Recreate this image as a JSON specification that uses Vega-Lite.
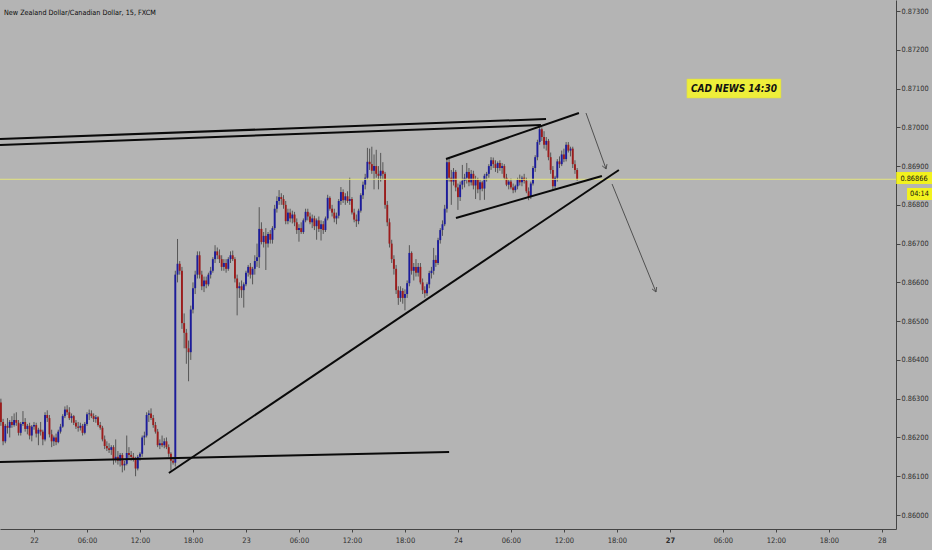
{
"$schema":"https://vega.github.io/schema/vega-lite/v6.json",
"width":896,"height":529,
"autosize":"none",
"padding":{"left":0,"top":0,"right":36,"bottom":21},
"background":"#b4b4b4",
"config":{"view":{"stroke":null},"axis":{"grid":false}},
"title":{"text":"New Zealand Dollar/Canadian Dollar, 15, FXCM","anchor":"start","frame":"group","orient":"top","offset":-22,"baseline":"alphabetic","font":"DejaVu Sans Condensed, sans-serif","fontSize":7.2,"fontWeight":"normal","color":"#0a0a0a","dx":4},
"datasets":{
"candles":[
{"i":-15,"o":0.86290,"h":0.86300,"l":0.86230,"c":0.86240},
{"i":-14,"o":0.86240,"h":0.86248,"l":0.86180,"c":0.86190},
{"i":-13,"o":0.86190,"h":0.86235,"l":0.86185,"c":0.86230},
{"i":-12,"o":0.86230,"h":0.86250,"l":0.86210,"c":0.86225},
{"i":-11,"o":0.86225,"h":0.86245,"l":0.86200,"c":0.86240},
{"i":-10,"o":0.86240,"h":0.86255,"l":0.86225,"c":0.86232},
{"i":-9,"o":0.86232,"h":0.86262,"l":0.86228,"c":0.86245},
{"i":-8,"o":0.86245,"h":0.86265,"l":0.86230,"c":0.86238},
{"i":-7,"o":0.86238,"h":0.86245,"l":0.86205,"c":0.86212},
{"i":-6,"o":0.86212,"h":0.86240,"l":0.86205,"c":0.86235},
{"i":-5,"o":0.86235,"h":0.86268,"l":0.86230,"c":0.86240},
{"i":-4,"o":0.86240,"h":0.86250,"l":0.86215,"c":0.86222},
{"i":-3,"o":0.86222,"h":0.86235,"l":0.86208,"c":0.86230},
{"i":-2,"o":0.86230,"h":0.86238,"l":0.86195,"c":0.86205},
{"i":-1,"o":0.86205,"h":0.86232,"l":0.86190,"c":0.86228},
{"i":0,"o":0.86228,"h":0.86240,"l":0.86220,"c":0.86232},
{"i":1,"o":0.86232,"h":0.86238,"l":0.86200,"c":0.86210},
{"i":2,"o":0.86210,"h":0.86225,"l":0.86180,"c":0.86220},
{"i":3,"o":0.86220,"h":0.86240,"l":0.86205,"c":0.86215},
{"i":4,"o":0.86215,"h":0.86220,"l":0.86180,"c":0.86195},
{"i":5,"o":0.86195,"h":0.86265,"l":0.86190,"c":0.86258},
{"i":6,"o":0.86258,"h":0.86270,"l":0.86240,"c":0.86250},
{"i":7,"o":0.86250,"h":0.86258,"l":0.86200,"c":0.86208},
{"i":8,"o":0.86208,"h":0.86220,"l":0.86175,"c":0.86190},
{"i":9,"o":0.86190,"h":0.86205,"l":0.86178,"c":0.86200},
{"i":10,"o":0.86200,"h":0.86210,"l":0.86180,"c":0.86188},
{"i":11,"o":0.86188,"h":0.86220,"l":0.86185,"c":0.86215},
{"i":12,"o":0.86215,"h":0.86235,"l":0.86210,"c":0.86228},
{"i":13,"o":0.86228,"h":0.86260,"l":0.86225,"c":0.86255},
{"i":14,"o":0.86255,"h":0.86280,"l":0.86250,"c":0.86272},
{"i":15,"o":0.86272,"h":0.86283,"l":0.86258,"c":0.86265},
{"i":16,"o":0.86265,"h":0.86278,"l":0.86245,"c":0.86250},
{"i":17,"o":0.86250,"h":0.86262,"l":0.86238,"c":0.86255},
{"i":18,"o":0.86255,"h":0.86258,"l":0.86232,"c":0.86238},
{"i":19,"o":0.86238,"h":0.86245,"l":0.86222,"c":0.86228},
{"i":20,"o":0.86228,"h":0.86240,"l":0.86215,"c":0.86225},
{"i":21,"o":0.86225,"h":0.86238,"l":0.86218,"c":0.86230},
{"i":22,"o":0.86230,"h":0.86235,"l":0.86205,"c":0.86212},
{"i":23,"o":0.86212,"h":0.86240,"l":0.86208,"c":0.86235},
{"i":24,"o":0.86235,"h":0.86265,"l":0.86230,"c":0.86260},
{"i":25,"o":0.86260,"h":0.86272,"l":0.86245,"c":0.86262},
{"i":26,"o":0.86262,"h":0.86270,"l":0.86250,"c":0.86255},
{"i":27,"o":0.86255,"h":0.86262,"l":0.86240,"c":0.86248},
{"i":28,"o":0.86248,"h":0.86258,"l":0.86238,"c":0.86252},
{"i":29,"o":0.86252,"h":0.86255,"l":0.86228,"c":0.86232},
{"i":30,"o":0.86232,"h":0.86240,"l":0.86220,"c":0.86225},
{"i":31,"o":0.86225,"h":0.86230,"l":0.86190,"c":0.86195},
{"i":32,"o":0.86195,"h":0.86205,"l":0.86170,"c":0.86178},
{"i":33,"o":0.86178,"h":0.86190,"l":0.86165,"c":0.86172},
{"i":34,"o":0.86172,"h":0.86185,"l":0.86160,"c":0.86168},
{"i":35,"o":0.86168,"h":0.86180,"l":0.86155,"c":0.86175},
{"i":36,"o":0.86175,"h":0.86180,"l":0.86130,"c":0.86142},
{"i":37,"o":0.86142,"h":0.86195,"l":0.86135,"c":0.86150},
{"i":38,"o":0.86150,"h":0.86165,"l":0.86130,"c":0.86140},
{"i":39,"o":0.86140,"h":0.86160,"l":0.86125,"c":0.86155},
{"i":40,"o":0.86155,"h":0.86160,"l":0.86110,"c":0.86128},
{"i":41,"o":0.86128,"h":0.86140,"l":0.86115,"c":0.86132},
{"i":42,"o":0.86132,"h":0.86205,"l":0.86128,"c":0.86160},
{"i":43,"o":0.86160,"h":0.86175,"l":0.86145,"c":0.86155},
{"i":44,"o":0.86155,"h":0.86165,"l":0.86140,"c":0.86150},
{"i":45,"o":0.86150,"h":0.86160,"l":0.86138,"c":0.86145},
{"i":46,"o":0.86145,"h":0.86150,"l":0.86100,"c":0.86120},
{"i":47,"o":0.86120,"h":0.86155,"l":0.86115,"c":0.86150},
{"i":48,"o":0.86150,"h":0.86162,"l":0.86140,"c":0.86158},
{"i":49,"o":0.86158,"h":0.86205,"l":0.86150,"c":0.86200},
{"i":50,"o":0.86200,"h":0.86215,"l":0.86180,"c":0.86205},
{"i":51,"o":0.86205,"h":0.86265,"l":0.86200,"c":0.86258},
{"i":52,"o":0.86258,"h":0.86270,"l":0.86240,"c":0.86262},
{"i":53,"o":0.86262,"h":0.86275,"l":0.86245,"c":0.86250},
{"i":54,"o":0.86250,"h":0.86258,"l":0.86225,"c":0.86232},
{"i":55,"o":0.86232,"h":0.86240,"l":0.86210,"c":0.86215},
{"i":56,"o":0.86215,"h":0.86222,"l":0.86175,"c":0.86180},
{"i":57,"o":0.86180,"h":0.86195,"l":0.86170,"c":0.86185},
{"i":58,"o":0.86185,"h":0.86205,"l":0.86175,"c":0.86180},
{"i":59,"o":0.86180,"h":0.86198,"l":0.86172,"c":0.86190},
{"i":60,"o":0.86190,"h":0.86200,"l":0.86170,"c":0.86175},
{"i":61,"o":0.86175,"h":0.86182,"l":0.86150,"c":0.86158},
{"i":62,"o":0.86158,"h":0.86162,"l":0.86115,"c":0.86140},
{"i":63,"o":0.86140,"h":0.86150,"l":0.86130,"c":0.86135},
{"i":64,"o":0.86135,"h":0.86630,"l":0.86125,"c":0.86620},
{"i":65,"o":0.86620,"h":0.86712,"l":0.86600,"c":0.86648},
{"i":66,"o":0.86648,"h":0.86655,"l":0.86620,"c":0.86630},
{"i":67,"o":0.86630,"h":0.86640,"l":0.86480,"c":0.86495},
{"i":68,"o":0.86495,"h":0.86520,"l":0.86430,"c":0.86470},
{"i":69,"o":0.86470,"h":0.86480,"l":0.86390,"c":0.86430},
{"i":70,"o":0.86430,"h":0.86450,"l":0.86345,"c":0.86420},
{"i":71,"o":0.86420,"h":0.86540,"l":0.86400,"c":0.86530},
{"i":72,"o":0.86530,"h":0.86600,"l":0.86520,"c":0.86585},
{"i":73,"o":0.86585,"h":0.86630,"l":0.86570,"c":0.86620},
{"i":74,"o":0.86620,"h":0.86680,"l":0.86610,"c":0.86670},
{"i":75,"o":0.86670,"h":0.86680,"l":0.86610,"c":0.86620},
{"i":76,"o":0.86620,"h":0.86630,"l":0.86580,"c":0.86590},
{"i":77,"o":0.86590,"h":0.86615,"l":0.86575,"c":0.86605},
{"i":78,"o":0.86605,"h":0.86615,"l":0.86585,"c":0.86595},
{"i":79,"o":0.86595,"h":0.86625,"l":0.86590,"c":0.86620},
{"i":80,"o":0.86620,"h":0.86640,"l":0.86610,"c":0.86630},
{"i":81,"o":0.86630,"h":0.86665,"l":0.86625,"c":0.86660},
{"i":82,"o":0.86660,"h":0.86696,"l":0.86650,"c":0.86680},
{"i":83,"o":0.86680,"h":0.86690,"l":0.86660,"c":0.86670},
{"i":84,"o":0.86670,"h":0.86685,"l":0.86650,"c":0.86660},
{"i":85,"o":0.86660,"h":0.86670,"l":0.86630,"c":0.86640},
{"i":86,"o":0.86640,"h":0.86660,"l":0.86630,"c":0.86650},
{"i":87,"o":0.86650,"h":0.86660,"l":0.86625,"c":0.86635},
{"i":88,"o":0.86635,"h":0.86665,"l":0.86630,"c":0.86660},
{"i":89,"o":0.86660,"h":0.86680,"l":0.86650,"c":0.86670},
{"i":90,"o":0.86670,"h":0.86682,"l":0.86655,"c":0.86660},
{"i":91,"o":0.86660,"h":0.86665,"l":0.86600,"c":0.86610},
{"i":92,"o":0.86610,"h":0.86620,"l":0.86515,"c":0.86585},
{"i":93,"o":0.86585,"h":0.86600,"l":0.86560,"c":0.86590},
{"i":94,"o":0.86590,"h":0.86605,"l":0.86560,"c":0.86580},
{"i":95,"o":0.86580,"h":0.86600,"l":0.86535,"c":0.86595},
{"i":96,"o":0.86595,"h":0.86630,"l":0.86590,"c":0.86625},
{"i":97,"o":0.86625,"h":0.86645,"l":0.86615,"c":0.86640},
{"i":98,"o":0.86640,"h":0.86650,"l":0.86610,"c":0.86620},
{"i":99,"o":0.86620,"h":0.86640,"l":0.86595,"c":0.86635},
{"i":100,"o":0.86635,"h":0.86670,"l":0.86620,"c":0.86655},
{"i":101,"o":0.86655,"h":0.86700,"l":0.86640,"c":0.86665},
{"i":102,"o":0.86665,"h":0.86794,"l":0.86637,"c":0.86738},
{"i":103,"o":0.86738,"h":0.86755,"l":0.86698,"c":0.86704},
{"i":104,"o":0.86704,"h":0.86730,"l":0.86690,"c":0.86720},
{"i":105,"o":0.86720,"h":0.86740,"l":0.86632,"c":0.86700},
{"i":106,"o":0.86700,"h":0.86730,"l":0.86690,"c":0.86725},
{"i":107,"o":0.86725,"h":0.86735,"l":0.86700,"c":0.86710},
{"i":108,"o":0.86710,"h":0.86745,"l":0.86700,"c":0.86740},
{"i":109,"o":0.86740,"h":0.86800,"l":0.86735,"c":0.86790},
{"i":110,"o":0.86790,"h":0.86822,"l":0.86780,"c":0.86810},
{"i":111,"o":0.86810,"h":0.86838,"l":0.86800,"c":0.86820},
{"i":112,"o":0.86820,"h":0.86830,"l":0.86800,"c":0.86815},
{"i":113,"o":0.86815,"h":0.86825,"l":0.86790,"c":0.86800},
{"i":114,"o":0.86800,"h":0.86810,"l":0.86750,"c":0.86758},
{"i":115,"o":0.86758,"h":0.86790,"l":0.86750,"c":0.86780},
{"i":116,"o":0.86780,"h":0.86790,"l":0.86755,"c":0.86765},
{"i":117,"o":0.86765,"h":0.86785,"l":0.86752,"c":0.86775},
{"i":118,"o":0.86775,"h":0.86782,"l":0.86745,"c":0.86755},
{"i":119,"o":0.86755,"h":0.86765,"l":0.86725,"c":0.86735},
{"i":120,"o":0.86735,"h":0.86750,"l":0.86705,"c":0.86740},
{"i":121,"o":0.86740,"h":0.86755,"l":0.86725,"c":0.86730},
{"i":122,"o":0.86730,"h":0.86765,"l":0.86725,"c":0.86760},
{"i":123,"o":0.86760,"h":0.86790,"l":0.86755,"c":0.86782},
{"i":124,"o":0.86782,"h":0.86790,"l":0.86760,"c":0.86770},
{"i":125,"o":0.86770,"h":0.86780,"l":0.86750,"c":0.86755},
{"i":126,"o":0.86755,"h":0.86775,"l":0.86740,"c":0.86765},
{"i":127,"o":0.86765,"h":0.86772,"l":0.86735,"c":0.86745},
{"i":128,"o":0.86745,"h":0.86765,"l":0.86710,"c":0.86760},
{"i":129,"o":0.86760,"h":0.86770,"l":0.86730,"c":0.86738},
{"i":130,"o":0.86738,"h":0.86760,"l":0.86708,"c":0.86750},
{"i":131,"o":0.86750,"h":0.86758,"l":0.86725,"c":0.86735},
{"i":132,"o":0.86735,"h":0.86770,"l":0.86730,"c":0.86765},
{"i":133,"o":0.86765,"h":0.86826,"l":0.86760,"c":0.86818},
{"i":134,"o":0.86818,"h":0.86822,"l":0.86785,"c":0.86790},
{"i":135,"o":0.86790,"h":0.86800,"l":0.86770,"c":0.86780},
{"i":136,"o":0.86780,"h":0.86790,"l":0.86755,"c":0.86765},
{"i":137,"o":0.86765,"h":0.86780,"l":0.86750,"c":0.86772},
{"i":138,"o":0.86772,"h":0.86815,"l":0.86765,"c":0.86810},
{"i":139,"o":0.86810,"h":0.86846,"l":0.86800,"c":0.86833},
{"i":140,"o":0.86833,"h":0.86840,"l":0.86805,"c":0.86812},
{"i":141,"o":0.86812,"h":0.86830,"l":0.86800,"c":0.86822},
{"i":142,"o":0.86822,"h":0.86835,"l":0.86805,"c":0.86810},
{"i":143,"o":0.86810,"h":0.86870,"l":0.86800,"c":0.86815},
{"i":144,"o":0.86815,"h":0.86820,"l":0.86775,"c":0.86780},
{"i":145,"o":0.86780,"h":0.86790,"l":0.86755,"c":0.86762},
{"i":146,"o":0.86762,"h":0.86775,"l":0.86743,"c":0.86758},
{"i":147,"o":0.86758,"h":0.86790,"l":0.86750,"c":0.86785},
{"i":148,"o":0.86785,"h":0.86830,"l":0.86780,"c":0.86825},
{"i":149,"o":0.86825,"h":0.86860,"l":0.86815,"c":0.86852},
{"i":150,"o":0.86852,"h":0.86880,"l":0.86840,"c":0.86870},
{"i":151,"o":0.86870,"h":0.86947,"l":0.86865,"c":0.86911},
{"i":152,"o":0.86911,"h":0.86945,"l":0.86890,"c":0.86905},
{"i":153,"o":0.86905,"h":0.86950,"l":0.86880,"c":0.86888},
{"i":154,"o":0.86888,"h":0.86930,"l":0.86840,"c":0.86900},
{"i":155,"o":0.86900,"h":0.86942,"l":0.86870,"c":0.86880},
{"i":156,"o":0.86880,"h":0.86900,"l":0.86840,"c":0.86875},
{"i":157,"o":0.86875,"h":0.86934,"l":0.86860,"c":0.86888},
{"i":158,"o":0.86888,"h":0.86910,"l":0.86865,"c":0.86880},
{"i":159,"o":0.86880,"h":0.86885,"l":0.86790,"c":0.86800},
{"i":160,"o":0.86800,"h":0.86810,"l":0.86745,"c":0.86755},
{"i":161,"o":0.86755,"h":0.86765,"l":0.86690,"c":0.86700},
{"i":162,"o":0.86700,"h":0.86710,"l":0.86650,"c":0.86660},
{"i":163,"o":0.86660,"h":0.86670,"l":0.86620,"c":0.86635},
{"i":164,"o":0.86635,"h":0.86645,"l":0.86570,"c":0.86580},
{"i":165,"o":0.86580,"h":0.86590,"l":0.86542,"c":0.86560},
{"i":166,"o":0.86560,"h":0.86590,"l":0.86550,"c":0.86578},
{"i":167,"o":0.86578,"h":0.86585,"l":0.86545,"c":0.86560},
{"i":168,"o":0.86560,"h":0.86582,"l":0.86528,"c":0.86570},
{"i":169,"o":0.86570,"h":0.86605,"l":0.86560,"c":0.86598},
{"i":170,"o":0.86598,"h":0.86696,"l":0.86590,"c":0.86676},
{"i":171,"o":0.86676,"h":0.86680,"l":0.86620,"c":0.86630},
{"i":172,"o":0.86630,"h":0.86650,"l":0.86605,"c":0.86640},
{"i":173,"o":0.86640,"h":0.86660,"l":0.86615,"c":0.86625},
{"i":174,"o":0.86625,"h":0.86650,"l":0.86615,"c":0.86640},
{"i":175,"o":0.86640,"h":0.86650,"l":0.86595,"c":0.86600},
{"i":176,"o":0.86600,"h":0.86610,"l":0.86570,"c":0.86580},
{"i":177,"o":0.86580,"h":0.86590,"l":0.86560,"c":0.86572},
{"i":178,"o":0.86572,"h":0.86600,"l":0.86565,"c":0.86595},
{"i":179,"o":0.86595,"h":0.86630,"l":0.86585,"c":0.86624},
{"i":180,"o":0.86624,"h":0.86640,"l":0.86610,"c":0.86630},
{"i":181,"o":0.86630,"h":0.86689,"l":0.86620,"c":0.86658},
{"i":182,"o":0.86658,"h":0.86670,"l":0.86640,"c":0.86650},
{"i":183,"o":0.86650,"h":0.86715,"l":0.86645,"c":0.86709},
{"i":184,"o":0.86709,"h":0.86740,"l":0.86700,"c":0.86735},
{"i":185,"o":0.86735,"h":0.86760,"l":0.86720,"c":0.86750},
{"i":186,"o":0.86750,"h":0.86800,"l":0.86745,"c":0.86790},
{"i":187,"o":0.86790,"h":0.86920,"l":0.86780,"c":0.86910},
{"i":188,"o":0.86910,"h":0.86918,"l":0.86860,"c":0.86870},
{"i":189,"o":0.86870,"h":0.86890,"l":0.86800,"c":0.86860},
{"i":190,"o":0.86860,"h":0.86895,"l":0.86850,"c":0.86885},
{"i":191,"o":0.86885,"h":0.86890,"l":0.86835,"c":0.86845},
{"i":192,"o":0.86845,"h":0.86855,"l":0.86787,"c":0.86820},
{"i":193,"o":0.86820,"h":0.86860,"l":0.86810,"c":0.86852},
{"i":194,"o":0.86852,"h":0.86903,"l":0.86840,"c":0.86862},
{"i":195,"o":0.86862,"h":0.86880,"l":0.86845,"c":0.86870},
{"i":196,"o":0.86870,"h":0.86908,"l":0.86855,"c":0.86885},
{"i":197,"o":0.86885,"h":0.86895,"l":0.86848,"c":0.86858},
{"i":198,"o":0.86858,"h":0.86890,"l":0.86850,"c":0.86880},
{"i":199,"o":0.86880,"h":0.86888,"l":0.86840,"c":0.86850},
{"i":200,"o":0.86850,"h":0.86875,"l":0.86815,"c":0.86865},
{"i":201,"o":0.86865,"h":0.86870,"l":0.86830,"c":0.86840},
{"i":202,"o":0.86840,"h":0.86865,"l":0.86812,"c":0.86858},
{"i":203,"o":0.86858,"h":0.86862,"l":0.86835,"c":0.86842},
{"i":204,"o":0.86842,"h":0.86880,"l":0.86813,"c":0.86875},
{"i":205,"o":0.86875,"h":0.86885,"l":0.86860,"c":0.86880},
{"i":206,"o":0.86880,"h":0.86905,"l":0.86870,"c":0.86900},
{"i":207,"o":0.86900,"h":0.86923,"l":0.86890,"c":0.86915},
{"i":208,"o":0.86915,"h":0.86922,"l":0.86895,"c":0.86905},
{"i":209,"o":0.86905,"h":0.86915,"l":0.86885,"c":0.86895},
{"i":210,"o":0.86895,"h":0.86912,"l":0.86882,"c":0.86908},
{"i":211,"o":0.86908,"h":0.86915,"l":0.86888,"c":0.86895},
{"i":212,"o":0.86895,"h":0.86908,"l":0.86880,"c":0.86900},
{"i":213,"o":0.86900,"h":0.86905,"l":0.86865,"c":0.86870},
{"i":214,"o":0.86870,"h":0.86880,"l":0.86848,"c":0.86852},
{"i":215,"o":0.86852,"h":0.86865,"l":0.86840,"c":0.86860},
{"i":216,"o":0.86860,"h":0.86868,"l":0.86840,"c":0.86845},
{"i":217,"o":0.86845,"h":0.86855,"l":0.86830,"c":0.86838},
{"i":218,"o":0.86838,"h":0.86852,"l":0.86832,"c":0.86848},
{"i":219,"o":0.86848,"h":0.86870,"l":0.86840,"c":0.86865},
{"i":220,"o":0.86865,"h":0.86878,"l":0.86850,"c":0.86858},
{"i":221,"o":0.86858,"h":0.86875,"l":0.86848,"c":0.86870},
{"i":222,"o":0.86870,"h":0.86880,"l":0.86855,"c":0.86862},
{"i":223,"o":0.86862,"h":0.86870,"l":0.86830,"c":0.86835},
{"i":224,"o":0.86835,"h":0.86845,"l":0.86812,"c":0.86820},
{"i":225,"o":0.86820,"h":0.86860,"l":0.86815,"c":0.86855},
{"i":226,"o":0.86855,"h":0.86900,"l":0.86850,"c":0.86895},
{"i":227,"o":0.86895,"h":0.86928,"l":0.86885,"c":0.86923},
{"i":228,"o":0.86923,"h":0.86968,"l":0.86915,"c":0.86962},
{"i":229,"o":0.86962,"h":0.87006,"l":0.86955,"c":0.86995},
{"i":230,"o":0.86995,"h":0.87000,"l":0.86965,"c":0.86975},
{"i":231,"o":0.86975,"h":0.86990,"l":0.86945,"c":0.86955},
{"i":232,"o":0.86955,"h":0.86975,"l":0.86940,"c":0.86965},
{"i":233,"o":0.86965,"h":0.86970,"l":0.86915,"c":0.86923},
{"i":234,"o":0.86923,"h":0.86935,"l":0.86880,"c":0.86890},
{"i":235,"o":0.86890,"h":0.86900,"l":0.86838,"c":0.86848},
{"i":236,"o":0.86848,"h":0.86875,"l":0.86840,"c":0.86870},
{"i":237,"o":0.86870,"h":0.86918,"l":0.86860,"c":0.86912},
{"i":238,"o":0.86912,"h":0.86925,"l":0.86895,"c":0.86905},
{"i":239,"o":0.86905,"h":0.86940,"l":0.86900,"c":0.86930},
{"i":240,"o":0.86930,"h":0.86945,"l":0.86910,"c":0.86918},
{"i":241,"o":0.86918,"h":0.86962,"l":0.86912,"c":0.86955},
{"i":242,"o":0.86955,"h":0.86962,"l":0.86935,"c":0.86940},
{"i":243,"o":0.86940,"h":0.86950,"l":0.86925,"c":0.86945},
{"i":244,"o":0.86945,"h":0.86950,"l":0.86895,"c":0.86905},
{"i":245,"o":0.86905,"h":0.86915,"l":0.86880,"c":0.86890},
{"i":246,"o":0.86890,"h":0.86895,"l":0.86862,"c":0.86866}
],
"trend":[
{"x1":-15.4,"y1":0.869699,"x2":231.9,"y2":0.870214},
{"x1":-15.4,"y1":0.869544,"x2":229.6,"y2":0.870060},
{"x1":-15.4,"y1":0.861367,"x2":188.0,"y2":0.861625},
{"x1":61.1,"y1":0.861084,"x2":264.9,"y2":0.868899},
{"x1":186.6,"y1":0.869183,"x2":246.8,"y2":0.870369},
{"x1":191.1,"y1":0.867661,"x2":257.2,"y2":0.868744}
],
"arrows":[
{"x1":250.0,"y1":0.870369,"x2":259.1,"y2":0.868925},
{"x1":259.1,"y1":0.868925,"x2":259.5,"y2":0.869051},
{"x1":259.1,"y1":0.868925,"x2":257.3,"y2":0.869007},
{"x1":261.8,"y1":0.868538,"x2":281.7,"y2":0.865752},
{"x1":281.7,"y1":0.865752,"x2":282.0,"y2":0.865881},
{"x1":281.7,"y1":0.865752,"x2":279.9,"y2":0.865832}
],
"note":[{"label":"CAD NEWS 14:30"}],
"last":[{"price":0.86866,"label":"0.86866"}],
"timer":[{"label":"04:14"}]
},
"layer":[
{"data":{"name":"candles"},
 "mark":{"type":"rule","color":"#565656","strokeWidth":1},
 "encoding":{
  "x":{"field":"i","type":"quantitative","title":null,
   "scale":{"domain":[-15.4,390.4],"nice":false,"zero":false,"padding":0},
   "axis":{"orient":"bottom","values":[0,24,48,72,96,120,144,168,192,216,240,264,288,312,336,360,384],
    "labelExpr":"['22','06:00','12:00','18:00','23','06:00','12:00','18:00','24','06:00','12:00','18:00','27','06:00','12:00','18:00','28'][round(datum.value/24)]",
    "labelFontWeight":{"condition":{"test":"datum.value === 288","value":"bold"},"value":"normal"},
    "domainColor":"#444444","tickColor":"#444444","tickSize":3,"labelPadding":4,
    "labelColor":"#2e2e2e","labelFont":"DejaVu Sans Condensed, sans-serif","labelFontSize":7.5,"labelFlush":false,"labelOverlap":false}},
  "y":{"field":"l","type":"quantitative","title":null,
   "scale":{"domain":[0.859639,0.873284],"nice":false,"zero":false,"padding":0},
   "axis":{"orient":"right","values":[0.86,0.861,0.862,0.863,0.864,0.865,0.866,0.867,0.868,0.869,0.87,0.871,0.872,0.873],
    "format":".5f","domainColor":"#444444","tickColor":"#444444","tickSize":4,"labelPadding":1,
    "labelColor":"#2e2e2e","labelFont":"DejaVu Sans Condensed, sans-serif","labelFontSize":7.3,"labelFlush":false,"labelOverlap":false}},
  "y2":{"field":"h"}}},
{"data":{"name":"candles"},
 "mark":{"type":"bar","size":1.9},
 "encoding":{
  "x":{"field":"i","type":"quantitative"},
  "y":{"field":"o","type":"quantitative"},
  "y2":{"field":"c"},
  "color":{"condition":{"test":"datum.c >= datum.o","value":"#1c1c9c"},"value":"#9c1c1c"}}},
{"data":{"name":"last"},
 "mark":{"type":"rule","color":"#e4e47e","strokeWidth":1},
 "encoding":{"y":{"field":"price","type":"quantitative"}}},
{"data":{"name":"trend"},
 "mark":{"type":"rule","color":"#0a0a0a","strokeWidth":2},
 "encoding":{"x":{"field":"x1","type":"quantitative"},"x2":{"field":"x2"},"y":{"field":"y1","type":"quantitative"},"y2":{"field":"y2"}}},
{"data":{"name":"arrows"},
 "mark":{"type":"rule","color":"#505050","strokeWidth":1},
 "encoding":{"x":{"field":"x1","type":"quantitative"},"x2":{"field":"x2"},"y":{"field":"y1","type":"quantitative"},"y2":{"field":"y2"}}},
{"data":{"name":"note"},
 "mark":{"type":"rect","fill":"#eeee3a","stroke":"#d8d84a","strokeWidth":0.5},
 "encoding":{"x":{"datum":295.7,"type":"quantitative"},"x2":{"datum":338.3},"y":{"datum":0.871246,"type":"quantitative"},"y2":{"datum":0.870756}}},
{"data":{"name":"note"},
 "mark":{"type":"text","font":"DejaVu Sans Condensed, sans-serif","fontStyle":"italic","fontWeight":"bold","fontSize":10,"color":"#111111","align":"center","baseline":"middle"},
 "encoding":{"text":{"field":"label"},"x":{"datum":317,"type":"quantitative"},"y":{"datum":0.871001,"type":"quantitative"}}},
{"data":{"name":"last"},
 "mark":{"type":"rect","fill":"#f2f21e"},
 "encoding":{"x":{"datum":390.5,"type":"quantitative"},"x2":{"datum":406.8},"y":{"datum":0.868847,"type":"quantitative"},"y2":{"datum":0.868538}}},
{"data":{"name":"last"},
 "mark":{"type":"text","font":"DejaVu Sans Condensed, sans-serif","fontSize":7.3,"color":"#111111","align":"left","baseline":"middle"},
 "encoding":{"text":{"field":"label"},"x":{"datum":392.4,"type":"quantitative"},"y":{"field":"price","type":"quantitative"}}},
{"data":{"name":"timer"},
 "mark":{"type":"rect","fill":"#f2f21e"},
 "encoding":{"x":{"datum":395.4,"type":"quantitative"},"x2":{"datum":406.8},"y":{"datum":0.868435,"type":"quantitative"},"y2":{"datum":0.868125}}},
{"data":{"name":"timer"},
 "mark":{"type":"text","font":"DejaVu Sans Condensed, sans-serif","fontSize":7.3,"color":"#111111","align":"center","baseline":"middle"},
 "encoding":{"text":{"field":"label"},"x":{"datum":401.0,"type":"quantitative"},"y":{"datum":0.86828,"type":"quantitative"}}}
]
}
